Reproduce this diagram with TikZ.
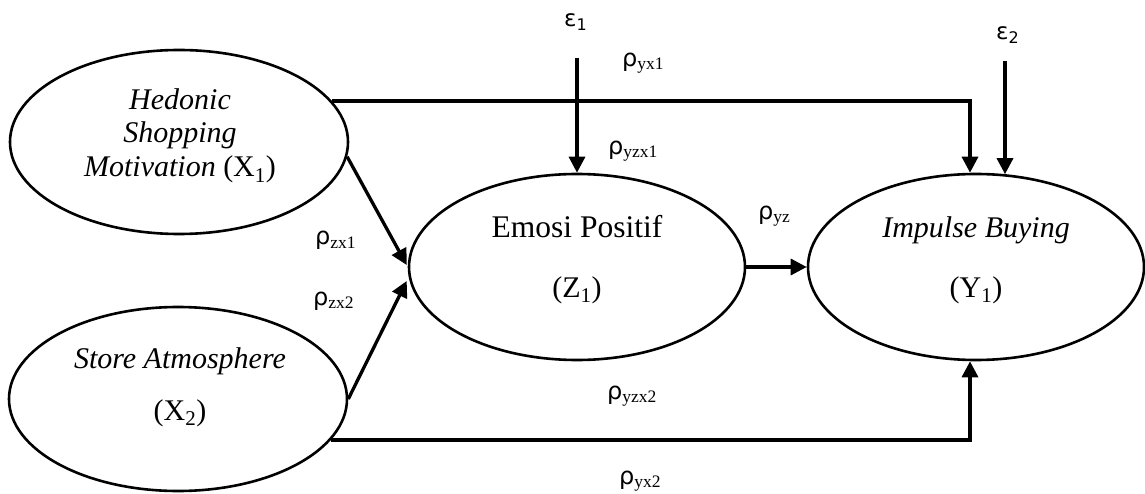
\documentclass[tikz,border=0pt]{standalone}
\usepackage{fontspec}
\setmainfont{Liberation Serif}
\newfontfamily\dvfont{DejaVu Sans}
\usetikzlibrary{shapes.geometric,arrows.meta,calc}
\newcommand\rholab[1]{{\dvfont\fontsize{24}{24}\selectfont ρ}\raisebox{-3pt}{\fontsize{17.5}{17.5}\selectfont #1}}
\newcommand\epslab[1]{{\dvfont\fontsize{23}{23}\selectfont ε\raisebox{-4pt}{\fontsize{16}{16}\selectfont #1}}}
\begin{document}
\begin{tikzpicture}[x=1pt,y=-1pt,
  lat/.style={draw, ellipse, line width=2.6pt, inner sep=0pt},
  arr/.style={line width=3.3pt, -{Triangle[length=16pt,width=16pt]}},
  txt/.style={anchor=base, inner sep=0pt, font=\fontsize{30}{36}\selectfont},
  coef/.style={anchor=base west, inner sep=0pt}]
\useasboundingbox (0,0) rectangle (1145,494);
\fill[white] (0,0) rectangle (1145,494);

% latent variables
\node[lat, minimum width=338pt, minimum height=184pt] (X1) at (179,142) {};
\node[lat, minimum width=338pt, minimum height=184pt] (X2) at (178,399) {};
\node[lat, minimum width=336pt, minimum height=186pt] (Z) at (577,267) {};
\node[lat, minimum width=336pt, minimum height=186pt] (Y) at (976,267) {};

% texts
\node[txt] (t1) at (180,110) {\itshape Hedonic};
\node[txt] (t2) at (180,143) {\itshape Shopping};
\node[txt] (t3) at (180,177) {\textit{Motivation} (X\textsubscript{1})};
\node[txt] (t4) at (180,368) {\itshape Store Atmosphere};
\node[txt] (t5) at (180,420) {(X\textsubscript{2})};
\node[txt, font=\fontsize{31.5}{36}\selectfont] (t6) at (577,238) {Emosi Positif};
\node[txt] (t7) at (577,297) {(Z\textsubscript{1})};
\node[txt] (t8) at (976,238) {\itshape Impulse Buying};
\node[txt] (t9) at (976,297) {(Y\textsubscript{1})};

% error terms
\node[coef] (e1) at (564,27) {\epslab{1}};
\node[coef] (e2) at (996,40) {\epslab{2}};
\coordinate (e1s) at (577,58);
\coordinate (e2s) at (1005,61);

% connectors
\draw[arr] (e1s) -- (Z.north);
\draw[arr] (e2s) -- ($(Y.north)+(29,1.5)$);
\draw[arr] (X1.15.6) -| ($(Y.north)+(-6,0)$);
\draw[arr] (X2.-15.6) -| ($(Y.south)+(-6,0)$);
\draw[arr] (X1.-5.5) -- ($(Z.west)+(-1,-2)$);
\draw[arr] (X2.east) -- ($(Z.west)+(-1,14)$);
\draw[arr] (Z.east) -- (Y.west);

% path coefficients
\node[coef] (p1) at (622,67) {\rholab{yx1}};
\node[coef] (p2) at (608,155) {\rholab{yzx1}};
\node[coef] (p3) at (758,220) {\rholab{yz}};
\node[coef] (p4) at (315,245) {\rholab{zx1}};
\node[coef] (p5) at (313,305) {\rholab{zx2}};
\node[coef] (p6) at (607,399) {\rholab{yzx2}};
\node[coef] (p7) at (619,484) {\rholab{yx2}};
\end{tikzpicture}
\end{document}
